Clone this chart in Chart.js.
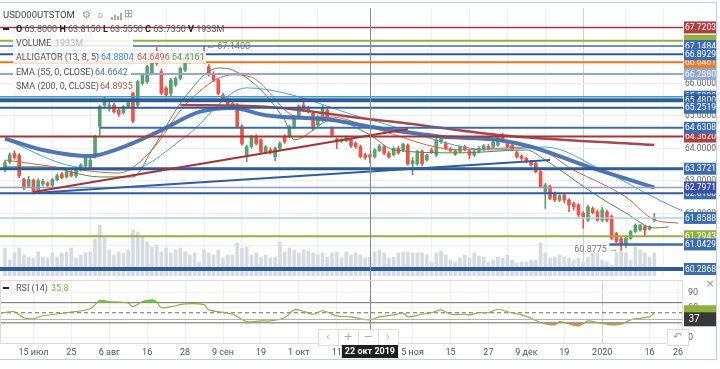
<!DOCTYPE html>
<html lang="ru">
<head>
<meta charset="UTF-8" />
<title>USD000UTSTOM - Chart.js</title>
<style>
  body { margin: 0; background: #fff; font-family: Roboto, Arial, sans-serif; }
  #wrap { position: relative; width: 720px; height: 369px; overflow: hidden; background: #fff; }
  canvas { position: absolute; left: 0; }
  #main { top: 0; }
  #rsi { top: 278px; }
  #frame { position: absolute; left: -1px; top: 2px; width: 717px; height: 356px;
           border: 1px solid #b9d1ea; border-left: none; pointer-events: none; }
  .txt { position: absolute; height: 12px; line-height: 12px; font-size: 9px; color: #555; white-space: nowrap; }
  .bg { position: absolute; height: 12px; background: rgba(255,255,255,0.85); }
  .k { color: #222; font-weight: bold; }
  .dash { position: absolute; left: 3px; width: 6px; height: 2px; background: #222; }
  .ico { position: absolute; color: #9a9a9a; line-height: 12px; }
  .bars { position: absolute; height: 8px; display: flex; align-items: flex-end; gap: 1px; }
  .bars i { display: block; width: 2px; background: #aaa; }
</style>
</head>
<body>
<div id="wrap">
  <canvas id="main" width="720" height="278"></canvas>
  <canvas id="rsi" width="720" height="91"></canvas>
  <div id="frame"></div>

  <!-- header -->
  <div class="txt" style="left:3px;top:9px;font-size:9.5px;color:#444">USD000UTSTOM</div>
  <div class="ico" style="left:82px;top:9px;font-size:10px">⚙</div>
  <div class="ico" style="left:98px;top:10px;font-size:7.5px">D</div>
  <div class="bars" style="left:111px;top:12px"><i style="height:3px"></i><i style="height:5px"></i><i style="height:4px"></i><i style="height:7px"></i></div>
  <div class="ico" style="left:124px;top:8px;font-size:11px">⊞</div>

  <!-- OHLC row -->
  <div class="dash" style="top:28px"></div>
  <div class="txt" style="left:16px;top:23px"><span class="k">O</span> 63.8000 <span class="k">H</span> 63.8150 <span class="k">L</span> 63.5550 <span class="k">C</span> 63.7350 <span class="k">V</span> 1933M</div>

  <!-- indicator legend rows -->
  <div class="bg" style="left:13px;top:37px;width:120px"></div>
  <div class="txt" style="left:16px;top:37px">VOLUME</div>
  <div class="txt" style="left:55px;top:37px;color:#b8b8b8">1933M</div>

  <div class="bg" style="left:13px;top:51px;width:193px"></div>
  <div class="txt" style="left:16px;top:51px">ALLIGATOR (13, 8, 5)</div>
  <div class="txt" style="left:101px;top:51px;color:#3d8fd6">64.8804</div>
  <div class="txt" style="left:137px;top:51px;color:#d9583a">64.6496</div>
  <div class="txt" style="left:172px;top:51px;color:#5a9a45">64.4161</div>

  <div class="bg" style="left:13px;top:66px;width:118px"></div>
  <div class="txt" style="left:16px;top:66px">EMA (55, 0, CLOSE)</div>
  <div class="txt" style="left:95px;top:66px;color:#4a79c0">64.6642</div>

  <div class="bg" style="left:13px;top:80px;width:122px"></div>
  <div class="txt" style="left:16px;top:80px">SMA (200, 0, CLOSE)</div>
  <div class="txt" style="left:100px;top:80px;color:#c0504d">64.8935</div>

  <!-- RSI legend -->
  <div class="dash" style="top:287px"></div>
  <div class="txt" style="left:16px;top:282px">RSI (14)</div>
  <div class="txt" style="left:51px;top:282px;color:#8db33a">35.8</div>
</div>

<script src="https://cdn.jsdelivr.net/npm/chart.js@4"></script>
<script>
  // ---- data (candle index 0 = first visible day) ----
  const opens = [63.35,63.58,63.84,63.78,63.05,62.84,63.02,62.70,62.90,62.93,
    62.86,63.03,63.21,63.12,63.26,63.15,63.36,63.45,63.40,63.76,
    64.68,65.33,65.30,65.33,65.18,65.10,65.28,65.70,65.33,66.00,
    66.05,66.31,66.80,66.36,65.85,65.69,65.95,66.15,66.41,66.67,
    66.86,66.72,66.95,66.51,66.31,66.10,65.64,65.49,65.30,65.33,
    64.67,63.80,64.05,64.36,64.26,63.90,63.95,63.74,64.00,64.36,
    64.36,64.67,64.97,65.33,65.12,65.08,64.72,64.87,65.18,64.61,
    64.28,64.22,64.24,64.26,64.15,64.05,63.80,63.80,63.74,63.93,
    64.05,63.85,63.80,64.00,63.95,64.10,63.52,63.52,63.90,63.64,
    63.95,63.79,64.20,64.15,63.98,63.82,63.90,64.05,63.92,63.79,
    63.90,63.97,64.05,64.05,64.10,64.36,64.15,64.10,63.87,63.76,
    63.69,63.59,63.54,63.28,62.67,62.82,62.61,62.40,62.56,62.41,
    62.30,62.26,62.00,61.79,62.15,62.05,61.79,62.05,61.90,61.38,
    61.22,61.06,61.23,61.44,61.49,61.59,61.51,61.80];
  const highs = [63.62,63.86,63.92,63.84,63.08,63.14,63.06,63.06,63.05,62.97,
    63.08,63.21,63.26,63.31,63.31,63.42,63.53,63.79,63.70,64.40,
    65.33,65.58,65.42,65.40,65.22,65.32,65.46,65.76,66.10,66.30,
    66.56,66.76,67.10,66.45,65.90,66.15,66.20,66.50,66.76,66.88,
    66.95,66.98,67.14,66.58,66.36,66.14,65.70,65.55,65.42,65.38,
    64.72,64.10,64.40,64.42,64.30,64.08,64.02,64.04,64.20,64.42,
    64.72,65.02,65.33,65.54,65.30,65.14,65.02,65.33,65.24,64.66,
    64.32,64.30,64.38,64.30,64.20,64.10,63.85,63.815,63.99,64.12,
    64.10,63.90,64.05,64.06,64.16,64.14,63.72,63.94,63.95,63.82,
    64.00,64.41,64.34,64.20,64.03,63.96,64.08,64.10,63.96,63.95,
    64.05,64.12,64.12,64.25,64.38,64.46,64.20,64.14,63.92,63.80,
    63.72,63.63,63.58,63.32,62.92,62.86,62.66,62.58,62.60,62.45,
    62.34,62.30,62.06,62.25,62.20,62.10,62.18,62.10,61.95,61.42,
    61.26,61.26,61.48,61.68,61.66,61.62,61.62,62.00];
  const lows = [63.28,63.52,63.66,63.10,62.72,62.80,62.59,62.64,62.85,62.82,
    62.80,63.00,63.06,63.08,63.12,63.10,63.30,63.40,63.36,63.70,
    64.40,65.28,65.14,65.08,64.98,65.05,65.24,64.78,65.28,65.95,
    66.00,66.28,66.55,65.64,65.58,65.62,65.90,66.10,66.36,66.62,
    66.70,66.68,66.62,66.22,66.05,65.64,65.44,65.30,65.24,64.62,
    64.10,63.59,64.00,64.10,63.85,63.85,63.82,63.62,63.96,64.15,
    64.32,64.62,64.92,65.12,65.08,64.56,64.68,64.82,64.88,64.36,
    63.99,64.18,64.20,64.02,64.00,63.70,63.66,63.555,63.70,63.90,
    63.80,63.70,63.76,63.82,63.90,63.48,63.18,63.48,63.47,63.60,
    63.84,63.75,64.15,63.95,63.88,63.78,63.86,63.92,63.68,63.75,
    63.86,63.92,63.95,64.02,64.06,64.18,64.00,63.93,63.70,63.63,
    63.55,63.45,63.24,62.78,62.15,62.42,62.36,62.36,62.32,62.05,
    62.10,61.88,61.54,61.75,61.98,61.75,61.75,61.74,61.18,61.08,
    60.8775,60.95,61.20,61.40,61.45,61.28,61.48,61.74];
  const closes = [63.56,63.80,63.72,63.15,62.78,63.04,62.66,63.00,62.98,62.86,
    63.04,63.16,63.10,63.28,63.16,63.38,63.49,63.73,63.64,64.36,
    65.28,65.50,65.33,65.13,65.05,65.28,65.40,64.84,66.05,66.26,
    66.51,66.72,66.62,65.69,65.64,66.10,66.15,66.46,66.72,66.82,
    66.75,66.92,66.70,66.26,66.10,65.69,65.49,65.33,65.38,64.67,
    64.15,64.05,64.36,64.15,63.90,64.05,63.90,64.00,64.15,64.20,
    64.67,64.97,65.28,65.18,65.26,64.61,64.97,65.23,64.92,64.41,
    64.20,64.26,64.33,64.07,64.05,63.74,63.72,63.735,63.95,64.07,
    63.85,63.74,64.00,63.86,64.13,63.52,63.62,63.90,63.52,63.79,
    63.87,64.26,64.30,64.00,63.92,63.92,64.05,63.97,63.79,63.90,
    64.00,64.07,64.00,64.20,64.33,64.23,64.05,63.97,63.74,63.69,
    63.59,63.49,63.28,62.82,62.87,62.46,62.41,62.54,62.41,62.26,
    62.20,61.95,61.90,62.20,62.02,61.79,62.10,61.79,61.23,61.13,
    61.06,61.23,61.44,61.64,61.64,61.49,61.59,61.8588];
  // volume, millions
  const volumes = [2860,1630,2350,2860,2140,1940,1840,2450,1940,1840,
    2350,1940,2350,2450,2860,1840,2140,2350,2450,3770,
    5200,3880,2650,2140,2450,2350,2650,4690,4490,3980,
    3470,2960,3160,2450,2860,2350,2650,2860,2450,2140,
    2350,1430,2650,2350,2140,2650,1840,2140,2140,3370,
    2860,2960,2140,2350,1940,2140,1840,1940,3470,2450,
    2860,2650,2350,2650,2550,2350,2140,2350,1940,2350,
    2450,1840,2450,2140,2350,2140,1840,1933,2450,2650,
    2350,1840,1940,2350,2450,2450,2350,2350,2350,2140,
    1430,2350,2550,2140,1630,1430,1840,2140,1840,2350,
    2040,1940,1430,1630,1940,1840,2140,1630,1330,1430,
    1430,1630,1630,3370,2350,1840,1940,2140,1940,1840,
    1630,1840,1430,1940,2350,2350,1630,1430,1120,2350,
    2650,2350,1630,2960,2650,2350,1940,2350];

  // indicators (sparse readings: candle index / value)
  const emaIdx = [0, 8, 18, 22, 27, 33, 41, 48, 55, 69, 77, 92, 104, 111, 124, 137];
  const emaVal = [64.30, 63.95, 63.76, 63.89, 64.16, 64.56, 65.12, 65.24, 65.02, 64.87, 64.6642, 64.36, 64.26, 64.05, 63.39, 62.7971];
  const smaIdx = [37, 55, 77, 82, 104, 137];
  const smaVal = [65.33, 65.28, 64.8935, 64.82, 64.41, 64.10];
  const jawIdx = [0, 13, 26, 38, 51, 59, 75, 77, 103, 114, 126, 138, 143];
  const jawVal = [64.29, 63.49, 63.33, 64.35, 65.86, 65.70, 64.96, 64.8804, 63.95, 64.04, 63.33, 62.41, 62.07];
  const teethIdx = [0, 20, 24, 31, 38, 48, 52, 62, 69, 77, 96, 111, 120, 131, 137, 142];
  const teethVal = [63.64, 63.27, 63.24, 63.95, 65.33, 66.26, 66.19, 64.96, 64.96, 64.6496, 63.95, 64.04, 63.33, 62.50, 61.80, 61.70];
  const lipsIdx = [0, 8, 20, 27, 31, 38, 45, 48, 59, 61, 69, 77, 82, 96, 110, 114, 124, 131, 137, 140];
  const lipsVal = [63.43, 63.43, 63.12, 63.12, 63.95, 65.58, 66.47, 66.41, 64.87, 64.26, 64.87, 64.4161, 63.95, 63.86, 63.95, 63.64, 62.63, 62.01, 61.55, 61.58];

  const rsiIdx = [-1,2,4,6,8,13,18,20,22,26,27,29,31,32,33,35,38,42,43,48,51,54,56,59,61,63,65,67,70,73,75,77,79,82,84,85,88,90,92,94,97,98,100,102,104,106,109,111,113,116,117,119,121,123,125,128,130,132,134,136,137];
  const rsiVal = [49,52,40,38,44,50,58,74,72,69.5,62,72,75.6,72,60,62,67.6,66,55.7,47,32.4,34,33.8,40,55.7,53,47,54,43.7,42,38,35.8,42,45.7,49,42,47,50,55.7,47,47,45.7,50,50,57,52,45.7,39,30.5,26,32.4,27.8,23.9,33.8,30.5,26,27.2,35.8,39,42,50];
  const rsiLevels = [70, 50, 30];
  const rsiTicks = [0, 60, 90];

  // horizontal levels and trend lines drawn on the chart
  const levelPrice = [67.7203, 67.3100, 67.1484, 66.6461, 66.8929, 66.2880, 65.5890, 65.4800, 65.2519,
                      64.3620, 64.6308, 63.3721, 62.6160, 62.7971, 61.8588, 61.2943, 61.0429, 60.2868];
  const levelFrom = [null, null, null, null, null, null, null, null, null,
                     null, 20, null, null, null, null, null, 127.5, null];
  const trendX1 = [6, 6];
  const trendY1 = [62.656, 62.625];
  const trendX2 = [85, 115];
  const trendY2 = [64.594, 63.64];

  const priceTicks = [61, 62, 63, 64, 65, 66, 67];
  const tickPos = [6, 14, 22, 30, 38, 46, 54, 62, 70, 86, 94, 102, 110, 118, 126, 136, 142];
  const tickLabels = ['15 июл','25','6 авг','16','28','9 сен','19','1 окт','11','5 ноя','15','27','9 дек','19','2020','16','26'];
  const crossIdx = 77, crossLabel = '22 окт 2019', crossRsi = 37;
  const maxIdx = 42, maxLabel = '67.1400';
  const minIdx = 130, minLabel = '60.8775';

  // ---- styles ----
  const X_MIN = -1.05, X_MAX = 143.05;
  const GREEN = '#59a26f', RED = '#ec5446';
  const levelStyle = [
    { line: '#a33a3a', w: 1.5, box: '#b0403f' },
    { line: '#93b040', w: 2,   box: '#93b040', noText: true },
    { line: '#3a6cb2', w: 1.5, box: '#3a6cb2' },
    { line: '#e8741e', w: 2,   box: '#ef7b22' },
    { line: '#2c5a9c', w: 2,   box: '#3a6cb2' },
    { line: '#8ea7d8', w: 2,   box: '#8ea7d8' },
    { line: '#37a2ba', w: 1.5, box: '#3a6cb2' },
    { line: '#2f5b9a', w: 4,   box: '#2f5b9a' },
    { line: '#2f5b9a', w: 2,   box: '#3a6cb2' },
    { line: '#a83434', w: 2,   box: '#b0403f' },
    { line: '#3a6cb2', w: 2,   box: '#3a6cb2' },
    { line: '#2f5b9a', w: 3,   box: '#3a6cb2' },
    { line: '#2f5b9a', w: 2,   box: '#3a6cb2' },
    { line: '#8d9ddb', w: 1.5, box: '#3c4dae' },
    { line: '#a5d2f2', w: 1.5, box: '#3a6cb2' },
    { line: '#93b040', w: 2,   box: '#93b040' },
    { line: '#3a6cb2', w: 2.5, box: '#3a6cb2' },
    { line: '#2f5b9a', w: 4,   box: '#3a6cb2' }
  ];
  const trendStyle = [ { line: '#a83232', w: 2 }, { line: '#2d5ea8', w: 2 } ];

  Chart.defaults.font.family = 'Roboto, Arial, sans-serif';

  const pts = (xs, ys) => xs.map((x, i) => ({ x: x, y: ys[i] }));
  const candleCol = closes.map((c, i) => c >= opens[i] ? GREEN : RED);

  function lineSet(data, color, width, order) {
    return { type: 'line', yAxisID: 'y', data: data, borderColor: color, borderWidth: width, pointRadius: 0,
             cubicInterpolationMode: 'monotone', fill: false, order: order };
  }

  const mainSets = [
    { type: 'bar', yAxisID: 'yVol', data: pts(closes.map((_, i) => i), volumes),
      backgroundColor: '#d5dbe1', barThickness: 3, grouped: false, order: 30 },
    { type: 'bar', yAxisID: 'y', data: closes.map((_, i) => ({ x: i, y: [lows[i], highs[i]] })),
      backgroundColor: candleCol, barThickness: 1, grouped: false, order: 21 },
    { type: 'bar', yAxisID: 'y', data: closes.map((_, i) => ({ x: i, y: [opens[i], closes[i]] })),
      backgroundColor: candleCol, barThickness: 3, minBarLength: 1, grouped: false, order: 20 },
    lineSet(pts(jawIdx, jawVal), '#45a3e0', 1, 12),
    lineSet(pts(teethIdx, teethVal), '#de5f3c', 1, 12),
    lineSet(pts(lipsIdx, lipsVal), '#4c8d45', 1, 12),
    lineSet(pts(smaIdx, smaVal), '#a8474b', 2.5, 11),
    lineSet(pts(emaIdx, emaVal), 'rgba(70,112,176,0.95)', 4, 10)
  ];
  levelPrice.forEach((p, i) => {
    const s = levelStyle[i];
    const from = levelFrom[i] === null ? X_MIN : levelFrom[i];
    mainSets.push(lineSet([{ x: from, y: p }, { x: X_MAX, y: p }], s.line, s.w, 5));
  });
  trendX1.forEach((x1, i) => {
    mainSets.push(lineSet([{ x: x1, y: trendY1[i] }, { x: trendX2[i], y: trendY2[i] }],
                          trendStyle[i].line, trendStyle[i].w, 4));
  });

  function crossLine(chart, top, bottom) {
    const { ctx, scales: { x } } = chart;
    const cx = Math.round(x.getPixelForValue(crossIdx)) + 0.5;
    ctx.save();
    ctx.strokeStyle = '#8c8c8c'; ctx.lineWidth = 1;
    ctx.beginPath(); ctx.moveTo(cx, top); ctx.lineTo(cx, bottom); ctx.stroke();
    ctx.restore();
  }

  const mainOverlay = {
    id: 'mainOverlay',
    afterDatasetsDraw(chart) {
      crossLine(chart, chart.chartArea.top, chart.chartArea.bottom + 2);
    },
    afterDraw(chart) {
      const { ctx, chartArea: a, scales: { x, y } } = chart;
      const bx = a.right + 1, bw = 33, bh = 12;
      ctx.save();
      ctx.font = '8.5px Roboto';
      ctx.textAlign = 'center'; ctx.textBaseline = 'middle';
      priceTicks.forEach(v => {
        const py = y.getPixelForValue(v);
        ctx.fillStyle = '#fff'; ctx.fillRect(bx, py - bh / 2, bw, bh);
        ctx.fillStyle = '#666'; ctx.fillText(v.toFixed(4), bx + bw / 2, py + 0.5);
      });
      levelPrice.forEach((p, i) => {
        const py = y.getPixelForValue(p);
        ctx.fillStyle = levelStyle[i].box;
        ctx.fillRect(bx, py - bh / 2, bw, bh);
        if (!levelStyle[i].noText) {
          ctx.fillStyle = '#fff';
          ctx.fillText(p.toFixed(4), bx + bw / 2, py + 0.5);
        }
      });
      // max / min markers
      ctx.font = '9px Roboto';
      ctx.fillStyle = '#777'; ctx.textAlign = 'left';
      const mx = x.getPixelForValue(maxIdx) + 2, my = y.getPixelForValue(highs[maxIdx]);
      ctx.fillText('← ' + maxLabel, mx, my);
      ctx.textAlign = 'right';
      const nx = x.getPixelForValue(minIdx) - 3, ny = y.getPixelForValue(lows[minIdx]);
      ctx.fillText(minLabel + ' →', nx, ny);
      ctx.restore();
    }
  };

  new Chart(document.getElementById('main'), {
    type: 'bar',
    data: { datasets: mainSets },
    options: {
      responsive: false, animation: false,
      layout: { padding: { top: 8, bottom: 2, left: 0, right: 0 } },
      plugins: { legend: { display: false }, tooltip: { enabled: false } },
      scales: {
        x: {
          type: 'linear', min: X_MIN, max: X_MAX, offset: false,
          afterBuildTicks: s => { s.ticks = tickPos.map(v => ({ value: v })); },
          ticks: { display: false },
          grid: { drawTicks: false, color: c => c.tick && c.tick.value === 126 ? '#cfd3d8' : '#eef0f3' },
          border: { display: false },
          afterFit: s => { s.height = 0; }
        },
        y: {
          position: 'right', min: 60.0715, max: 68.3176,
          afterBuildTicks: s => { s.ticks = priceTicks.map(v => ({ value: v })); },
          ticks: { display: false },
          grid: { drawTicks: false, color: '#eef0f3' },
          border: { display: false },
          afterFit: s => { s.width = 37; }
        },
        yVol: { display: false, min: 0, max: 27340 }
      }
    },
    plugins: [mainOverlay]
  });

  // ---- RSI panel ----
  const rsiOverlay = {
    id: 'rsiOverlay',
    afterDatasetsDraw(chart) {
      const { ctx, chartArea: a, scales: { y } } = chart;
      crossLine(chart, 0, a.bottom);
      const cy = Math.round(y.getPixelForValue(crossRsi)) + 0.5;
      ctx.save();
      ctx.strokeStyle = '#b5b5b5'; ctx.lineWidth = 1;
      ctx.beginPath(); ctx.moveTo(a.left, cy); ctx.lineTo(a.right, cy); ctx.stroke();
      ctx.strokeStyle = '#dcdcdc';
      ctx.strokeRect(a.left + 0.5, a.top + 0.5, a.right - a.left - 1, a.bottom - a.top);
      ctx.restore();
    },
    afterDraw(chart) {
      const { ctx, chartArea: a, scales: { x, y } } = chart;
      const bx = a.right + 1, bw = 33, bh = 12;
      ctx.save();
      ctx.textAlign = 'left'; ctx.textBaseline = 'middle';
      ctx.fillStyle = '#666'; ctx.font = '9px Roboto';
      rsiTicks.forEach(v => ctx.fillText(String(v), a.right + 5, y.getPixelForValue(v)));
      ctx.textAlign = 'center';
      // last value marker and crosshair value
      const ly = y.getPixelForValue(rsiVal[rsiVal.length - 1] + 3);
      ctx.fillStyle = '#8db33a'; ctx.fillRect(bx, ly - bh / 2, bw, bh);
      const cy = y.getPixelForValue(crossRsi);
      ctx.fillStyle = '#383838'; ctx.fillRect(bx, cy - bh / 2 - 1, bw, bh + 2);
      ctx.fillStyle = '#fff'; ctx.font = '10px Roboto';
      ctx.fillText(String(crossRsi), bx + 10, cy + 0.5);
      // close cross
      ctx.fillStyle = '#999'; ctx.font = '11px DejaVu Sans';
      ctx.fillText('×', 710, 6);
      // navigation buttons
      const btn = (x0, w, glyph) => {
        ctx.fillStyle = '#fff'; ctx.fillRect(x0, 51, w, 16);
        ctx.strokeStyle = '#dedede'; ctx.strokeRect(x0 + 0.5, 51.5, w, 16);
        ctx.fillStyle = '#aaa'; ctx.font = '11px DejaVu Sans';
        ctx.fillText(glyph, x0 + w / 2, 59.5);
      };
      btn(318, 20, '‹'); btn(338, 20, '+'); btn(358, 20, '−'); btn(378, 20, '›');
      btn(667, 21, '↶');
      // time label under the crosshair
      const cx = x.getPixelForValue(crossIdx);
      ctx.font = 'bold 9px Roboto';
      const tw = ctx.measureText(crossLabel).width + 6;
      ctx.fillStyle = '#1f1f1f'; ctx.fillRect(cx - tw / 2, 67, tw, 13);
      ctx.fillStyle = '#fff'; ctx.fillText(crossLabel, cx, 74);
      ctx.restore();
    }
  };

  const rsiPts = pts(rsiIdx, rsiVal);
  const rsiSets = [
    { data: rsiPts, borderColor: '#8db33a', borderWidth: 1.2, pointRadius: 0, tension: 0.3,
      fill: { target: { value: 70 }, above: '#55d14f', below: 'rgba(0,0,0,0)' }, order: 1 },
    { data: rsiPts, borderWidth: 0, borderColor: 'rgba(0,0,0,0)', pointRadius: 0, tension: 0.3,
      fill: { target: { value: 30 }, above: 'rgba(0,0,0,0)', below: '#f07a72' }, order: 2 }
  ];
  rsiLevels.forEach((v, i) => {
    rsiSets.push({ data: [{ x: X_MIN, y: v }, { x: X_MAX, y: v }], borderColor: '#6a6a6a',
                   borderWidth: 1, borderDash: i === 1 ? [4, 3] : [], pointRadius: 0, fill: false, order: 3 });
  });

  new Chart(document.getElementById('rsi'), {
    type: 'line',
    data: { datasets: rsiSets },
    options: {
      responsive: false, animation: false,
      layout: { padding: { top: 2, bottom: 0, left: 0, right: 0 } },
      plugins: { legend: { display: false }, tooltip: { enabled: false } },
      scales: {
        x: {
          type: 'linear', min: X_MIN, max: X_MAX, offset: false,
          afterBuildTicks: s => { s.ticks = tickPos.map(v => ({ value: v })); },
          ticks: {
            autoSkip: false, maxRotation: 0, padding: 4, color: '#555', font: { size: 9 },
            callback: v => { const k = tickPos.indexOf(v); return k >= 0 ? tickLabels[k] : ''; }
          },
          grid: { drawTicks: false, color: c => c.tick && c.tick.value === 126 ? '#cfd3d8' : '#eef0f3' },
          border: { display: false },
          afterFit: s => { s.height = 26; }
        },
        y: {
          position: 'right', min: -10, max: 115,
          afterBuildTicks: s => { s.ticks = rsiTicks.map(v => ({ value: v })); },
          ticks: { display: false },
          grid: { drawTicks: false, color: '#f3f3f3' },
          border: { display: false },
          afterFit: s => { s.width = 37; }
        }
      }
    },
    plugins: [rsiOverlay]
  });
</script>
</body>
</html>
